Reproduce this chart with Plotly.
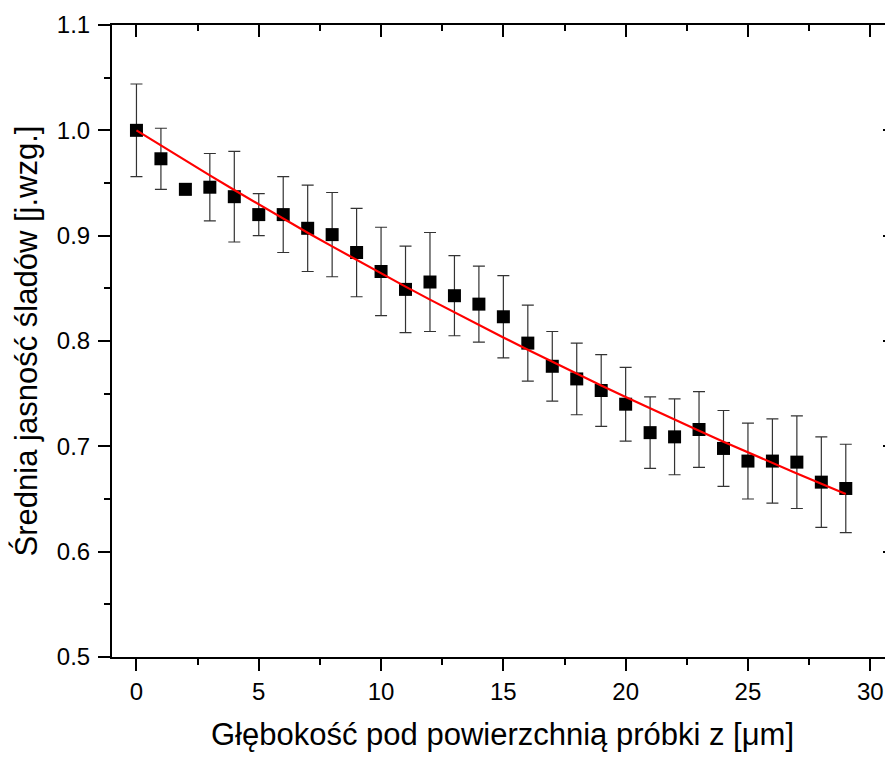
import plotly.graph_objects as go

# Data
depth = list(range(30))
brightness = [1.000, 0.973, 0.944, 0.946, 0.937, 0.920, 0.920, 0.907, 0.901, 0.884,
              0.866, 0.849, 0.856, 0.843, 0.835, 0.823, 0.798, 0.776, 0.764, 0.753,
              0.740, 0.713, 0.709, 0.716, 0.698, 0.686, 0.686, 0.685, 0.666, 0.660]
error = [0.044, 0.029, 0.005, 0.032, 0.043, 0.020, 0.036, 0.041, 0.040, 0.042,
         0.042, 0.041, 0.047, 0.038, 0.036, 0.039, 0.036, 0.033, 0.034, 0.034,
         0.035, 0.034, 0.036, 0.036, 0.036, 0.036, 0.040, 0.044, 0.043, 0.042]
fit_x = list(range(30))
fit_y = [1.000, 0.9855, 0.9712, 0.9572, 0.9433, 0.9296, 0.9161, 0.9028, 0.8898, 0.8769,
         0.8642, 0.8516, 0.8393, 0.8271, 0.8151, 0.8033, 0.7917, 0.7802, 0.7689, 0.7577,
         0.7468, 0.7359, 0.7253, 0.7148, 0.7044, 0.6942, 0.6841, 0.6742, 0.6644, 0.6548]

x_title = "Głębokość pod powierzchnią próbki z [μm]"
y_title = "Średnia jasność śladów [j.wzg.]"

FONT = "Liberation Sans, Arial, sans-serif"
XR = [-1, 30.93]
YR = [0.5, 1.1]

fig = go.Figure()
fig.add_trace(go.Scatter(
    x=depth, y=brightness, mode="markers",
    marker=dict(symbol="square", size=13, color="black", line=dict(width=0)),
    error_y=dict(type="data", array=error, visible=True, color="#333333",
                 thickness=1.2, width=6),
    showlegend=False, hoverinfo="x+y"))
fig.add_trace(go.Scatter(
    x=fit_x, y=fit_y, mode="lines",
    line=dict(color="#ff0000", width=2.2),
    showlegend=False, hoverinfo="skip"))
# invisible carrier traces so the mirrored (top/right) axes get drawn
fig.add_trace(go.Scatter(
    x=fit_x, y=fit_y, mode="lines", xaxis="x2", yaxis="y",
    line=dict(width=0), opacity=0, showlegend=False, hoverinfo="skip"))
fig.add_trace(go.Scatter(
    x=fit_x, y=fit_y, mode="lines", xaxis="x", yaxis="y2",
    line=dict(width=0), opacity=0, showlegend=False, hoverinfo="skip"))

common = dict(showgrid=False, zeroline=False, linecolor="black", tickcolor="black",
              tickwidth=2, linewidth=2)

# the page body has an 8px margin, so the figure is shifted by 8px right/down
fig.update_layout(
    width=885, height=752,
    margin=dict(l=104, r=0, t=17, b=103),
    paper_bgcolor="white", plot_bgcolor="white",
    font=dict(family=FONT, color="black"),
    xaxis=dict(range=XR, tickmode="linear", tick0=0, dtick=5,
               ticks="outside", ticklen=12, showline=True,
               tickfont=dict(size=24),
               minor=dict(ticks="outside", ticklen=6, tickwidth=2, tick0=0, dtick=2.5,
                          tickcolor="black"),
               title=dict(text=x_title, font=dict(size=31), standoff=20),
               **common),
    yaxis=dict(range=YR, tickmode="linear", tick0=0.5, dtick=0.1, tickformat=".1f",
               ticks="outside", ticklen=12, showline=True, ticklabelstandoff=3,
               tickfont=dict(size=24),
               minor=dict(ticks="outside", ticklen=6, tickwidth=2, tick0=0.5, dtick=0.05,
                          tickcolor="black"),
               title=dict(text=y_title, font=dict(size=31), standoff=10),
               **common),
    xaxis2=dict(range=XR, overlaying="x", side="top", anchor="y",
                tickmode="linear", tick0=0, dtick=5,
                ticks="inside", ticklen=12, showline=True, showticklabels=False,
                minor=dict(ticks="inside", ticklen=6, tickwidth=2, tick0=0, dtick=2.5,
                           tickcolor="black"),
                **common),
    yaxis2=dict(range=YR, overlaying="y", side="right", anchor="x",
                tickmode="linear", tick0=0.5, dtick=0.1,
                ticks="inside", ticklen=10, showticklabels=False,
                minor=dict(ticks="inside", ticklen=4, tickwidth=2, tick0=0.5, dtick=0.05,
                           tickcolor="black"),
                showgrid=False, zeroline=False, showline=False,
                tickcolor="black", tickwidth=2),
)

fig.write_html("out.html")
